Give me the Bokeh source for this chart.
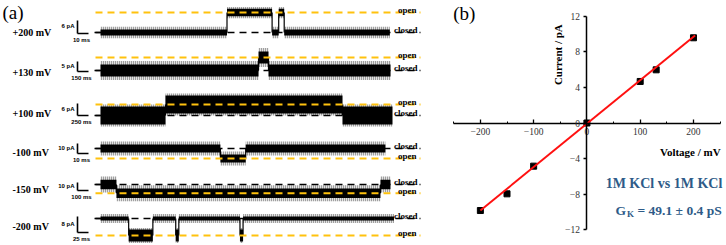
from math import pi
from bokeh.plotting import figure
from bokeh.layouts import row
from bokeh.models import Range1d, FixedTicker
from bokeh.embed import file_html
from bokeh.resources import INLINE
from bokeh.core.properties import value

# ---------------- data: panel (a) single-channel recordings ----------------
voltages = ["+200 mV", "+130 mV", "+100 mV", "-100 mV", "-150 mV", "-200 mV"]
bar_pA = [6, 5, 6, 10, 10, 8]            # scale bar current
bar_ms = [10, 150, 250, 10, 100, 25]     # scale bar time
open_pA = [9.2, 6.5, 5.5, -10.0, -11.0, -8.5]   # open-state current (relative to closed)
noise_closed_pA = [1.4, 3.0, 4.5, 4.0, 6.0, 1.0]
noise_open_pA = [1.7, 3.0, 4.5, 4.0, 6.0, 3.0]
spike_pA = [2.6, 4.8, 5.5, 7.0, 10.0, 2.2]

dwell_p200 = [115, 41, 6, 5, 96]
state_p200 = [0, 1, 0, 1, 0]
dwell_p130 = [2155, 136, 1664]
state_p130 = [0, 1, 0]
dwell_p100 = [1477, 4023, 1136]
state_p100 = [0, 1, 0]
dwell_m100 = [109, 23, 127]
state_m100 = [0, 1, 0]
dwell_m150 = [145, 2400, 91]
state_m150 = [0, 1, 0]
dwell_m200 = [64, 55, 52, 7, 139, 7, 343]
state_m200 = [0, 1, 0, 1, 0, 1, 0]

dwells = [dwell_p200, dwell_p130, dwell_p100, dwell_m100, dwell_m150, dwell_m200]
states = [state_p200, state_p130, state_p100, state_m100, state_m150, state_m200]

# ---------------- data: panel (b) I-V curve ----------------
volt_mV = [-200, -150, -100, 0, 100, 130, 200]
curr_pA = [-9.86, -7.98, -4.86, 0.0, 4.68, 5.99, 9.6]
fit_mV = [-200, 203]
fit_pA = [-9.85, 9.85]
x_ticks = [-200, -100, 0, 100, 200]
x_minor = [-250, -150, -50, 50, 150, 250]
y_ticks = [-12, -8, -4, 0, 4, 8, 12]

# ---------------- layout of panel (a) (reference pixel frame) ----------------
base_y = [32, 70, 115, 148, 184, 218]
px_per_pA = [2.17, 2.0, 2.0, 1.0, 0.8, 2.0]
bar_bottom = [33, 71, 115, 153, 190, 232]
label_y = [32, 72, 113, 152, 189, 226]
TRACE_X0, BAR_X, BAR_LEN, LINE_X0, LINE_X1 = 100, 77, 11, 95, 420

SERIF = value("Liberation Serif")
SANS = value("Liberation Sans")
YELLOW = "#FFC20E"

fa = figure(width=425, height=245, x_range=Range1d(0, 425), y_range=Range1d(245, 0),
            x_axis_location=None, y_axis_location=None, toolbar_location=None,
            output_backend="svg", min_border=0)
fa.grid.visible = False
fa.outline_line_color = None

inner = dict(left=[], right=[], top=[], bottom=[])
outer = dict(left=[], right=[], top=[], bottom=[])
tx, ty0, ty1 = [], [], []
for i in range(len(voltages)):
    ppa = px_per_pA[i]
    ppm = BAR_LEN / bar_ms[i]
    x = TRACE_X0
    prev = None
    for d, s in zip(dwells[i], states[i]):
        lvl = base_y[i] - open_pA[i] * ppa * s
        w = d * ppm
        n = (noise_open_pA[i] if s else noise_closed_pA[i]) * ppa
        sp = max(spike_pA[i] * ppa, n + 1.5)
        inner["left"].append(x); inner["right"].append(x + w)
        inner["top"].append(lvl - n); inner["bottom"].append(lvl + n)
        outer["left"].append(x); outer["right"].append(x + w)
        outer["top"].append(lvl - sp); outer["bottom"].append(lvl + sp)
        if prev is not None:
            tx.append(x); ty0.append(prev); ty1.append(lvl)
        prev = lvl
        x += w

fa.quad(**outer, fill_color="#b0b0b0", fill_alpha=0.35, line_color=None,
        hatch_pattern="|", hatch_color="black", hatch_alpha=0.75,
        hatch_scale=2.0, hatch_weight=0.8)
fa.quad(**inner, fill_color="black", line_color=None)
fa.segment(x0=tx, y0=ty0, x1=tx, y1=ty1, line_color="black", line_width=1.2)
# short lead-in mark at closed level
fa.segment(x0=[LINE_X0 - 1] * 6, y0=base_y, x1=[TRACE_X0] * 6, y1=base_y,
           line_color="black", line_width=1.5)

# dashed level lines
open_y = [base_y[i] - open_pA[i] * px_per_pA[i] for i in range(6)]
fa.segment(x0=[LINE_X0] * 6, y0=base_y, x1=[LINE_X1] * 6, y1=base_y,
           line_color="black", line_width=1.5, line_dash="7 5")
fa.segment(x0=[LINE_X0] * 6, y0=open_y, x1=[LINE_X1] * 6, y1=open_y,
           line_color=YELLOW, line_width=2, line_dash="7 5")

fa.text(x=[LINE_X1 - 3] * 6, y=[b - 2.5 for b in base_y], text=["closed"] * 6,
        text_font=SERIF, text_font_style="bold", text_font_size="9px",
        text_align="right", text_baseline="alphabetic", text_color="black")
fa.text(x=[LINE_X1 - 4] * 6, y=[o - 2.5 for o in open_y], text=["open"] * 6,
        text_font=SERIF, text_font_style="bold", text_font_size="9px",
        text_align="right", text_baseline="alphabetic", text_color="black")

# scale bars
bar_top = [bar_bottom[i] - bar_pA[i] * px_per_pA[i] for i in range(6)]
fa.segment(x0=[BAR_X] * 6, y0=bar_top, x1=[BAR_X] * 6, y1=bar_bottom,
           line_color="black", line_width=1.6)
fa.segment(x0=[BAR_X] * 6, y0=bar_bottom, x1=[BAR_X + BAR_LEN] * 6, y1=bar_bottom,
           line_color="black", line_width=1.6)
fa.text(x=[BAR_X - 3] * 6, y=[(bar_top[i] + bar_bottom[i]) / 2 - 1 for i in range(6)],
        text=[f"{v} pA" for v in bar_pA], text_font=SANS, text_font_style="bold",
        text_font_size="6px", text_align="right", text_baseline="middle")
fa.text(x=[BAR_X + 4] * 6, y=[b + 6 for b in bar_bottom],
        text=[f"{v} ms" for v in bar_ms], text_font=SANS, text_font_style="bold",
        text_font_size="6px", text_align="center", text_baseline="middle")

fa.text(x=[12] * 6, y=label_y, text=voltages, text_font=SERIF, text_font_style="bold",
        text_font_size="10px", text_align="left", text_baseline="middle")
fa.text(x=[2], y=[12], text=["(a)"], text_font=SERIF, text_font_size="19px",
        text_align="left", text_baseline="middle")

# ---------------- panel (b) ----------------
fb = figure(width=301, height=245, x_range=Range1d(-303, 262), y_range=Range1d(-13.8, 13.8),
            toolbar_location=None, output_backend="svg", min_border=0)
fb.grid.visible = False
fb.outline_line_color = None
fb.xaxis.fixed_location = 0
fb.yaxis.fixed_location = 0
fb.xaxis.bounds = (-250, 250)
fb.yaxis.bounds = (-12, 12)
fb.xaxis.ticker = FixedTicker(ticks=x_ticks, minor_ticks=x_minor)
fb.yaxis.ticker = FixedTicker(ticks=y_ticks, minor_ticks=[])
fb.xaxis.major_label_overrides = {t: (f"\u2212{-t}" if t < 0 else str(t)) for t in x_ticks}
fb.yaxis.major_label_overrides = {t: (f"\u2212{-t}" if t < 0 else str(t)) for t in y_ticks}
for ax in (fb.xaxis, fb.yaxis):
    ax.axis_line_width = 1.5
    ax.axis_line_color = "black"
    ax.major_tick_line_color = "black"
    ax.major_tick_line_width = 1.3
    ax.minor_tick_line_color = "black"
    ax.major_label_text_font = "Liberation Serif"
    ax.major_label_text_font_size = "9.5px"
    ax.major_label_text_color = "#333333"
fb.xaxis.major_tick_in = 4
fb.xaxis.major_tick_out = 0
fb.xaxis.minor_tick_in = 2
fb.xaxis.minor_tick_out = 0
fb.xaxis.major_label_standoff = 5
fb.yaxis.major_tick_in = 0
fb.yaxis.major_tick_out = 3
fb.yaxis.minor_tick_in = 0
fb.yaxis.minor_tick_out = 0
fb.yaxis.major_label_standoff = 4

fb.scatter(volt_mV, curr_pA, marker="square", size=6, fill_color="black", line_color="black")
fb.line(fit_mV, fit_pA, line_color="#FF1010", line_width=2)

fb.text(x=[-53.5], y=[7.7], text=["Current / pA"], angle=pi / 2, text_font=SERIF,
        text_font_style="bold", text_font_size="11px", text_align="center",
        text_baseline="middle")
fb.text(x=[251], y=[-3.3], text=["Voltage / mV"], text_font=SERIF, text_font_style="bold",
        text_font_size="11px", text_align="right", text_baseline="middle")
fb.text(x=[-251], y=[12.3], text=["(b)"], text_font=SERIF, text_font_size="19px",
        text_align="left", text_baseline="middle")
BLUE = "#2E5B88"
fb.text(x=[144.6], y=[-6.8], text=["1M KCl vs 1M KCl"], text_font=SERIF,
        text_font_style="bold", text_font_size="14px", text_align="center",
        text_baseline="middle", text_color=BLUE)
fb.text(x=[53.5], y=[-9.9], text=["G"], text_font=SERIF, text_font_style="bold",
        text_font_size="13.5px", text_align="left", text_baseline="alphabetic", text_color=BLUE)
fb.text(x=[75], y=[-10.3], text=["K"], text_font=SERIF, text_font_style="bold",
        text_font_size="9px", text_align="left", text_baseline="alphabetic", text_color=BLUE)
fb.text(x=[95], y=[-9.9], text=["= 49.1 \u00b1 0.4 pS"], text_font=SERIF,
        text_font_style="bold", text_font_size="13.5px", text_align="left",
        text_baseline="alphabetic", text_color=BLUE)

layout = row(fa, fb)
open("out.html", "w").write(file_html(layout, INLINE))
